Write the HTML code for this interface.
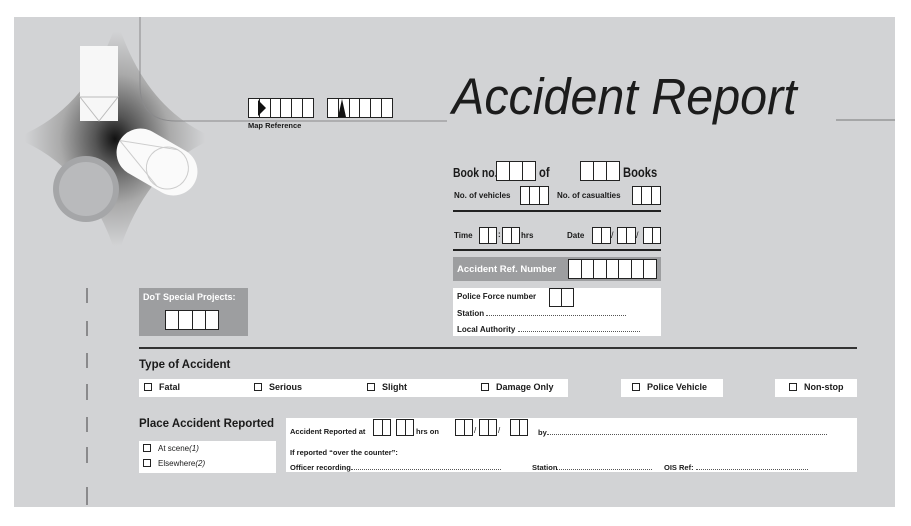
<!DOCTYPE html>
<html><head><meta charset="utf-8"><style>
*{margin:0;padding:0;box-sizing:border-box}
body{width:911px;height:526px;background:#fff;position:relative;overflow:hidden;font-family:"Liberation Sans",sans-serif;color:#1a1a1a}
.a{position:absolute;white-space:nowrap}
.b{font-weight:bold}
.cells{position:absolute;display:flex;border:1.5px solid #222;background:#fff}
.cells span{flex:1;border-left:1.5px solid #222}
.cells span:first-child{border-left:none}
.w{position:absolute;background:#fff}
.cb{display:inline-block;width:8px;height:8px;border:1.3px solid #222;margin-right:7px;vertical-align:-1px}
.dots{border-bottom:1px dotted #555;display:inline-block;height:8px}
.sx{transform:scaleX(0.8);transform-origin:left center}
</style></head><body>
<svg class="a" style="left:0;top:0" width="911" height="526">
<defs>
<radialGradient id="g" cx="0.5" cy="0.5" r="0.5">
<stop offset="0" stop-color="#111"/><stop offset="0.2" stop-color="#555"/><stop offset="0.55" stop-color="#aaa"/><stop offset="0.9" stop-color="#d2d3d5"/></radialGradient>
</defs>
<rect x="14" y="17" width="881" height="490" fill="#d2d3d5"/>
<path d="M117,20 Q145,110 215,138 Q145,166 117,258 Q89,166 15,138 Q89,110 117,20 Z" fill="url(#g)"/>
<path d="M140,17 V85 Q140,121 176,121 H447" fill="none" stroke="#8a8a8c" stroke-width="1"/>
<line x1="836" y1="120" x2="895" y2="120" stroke="#8a8a8c" stroke-width="1.2"/>
<rect x="80" y="46" width="38" height="75" fill="#f7f7f7"/>
<path d="M80,97 H118 L99,121 Z" fill="none" stroke="#bbb" stroke-width="1"/>
<g transform="translate(157,162) rotate(30)">
<rect x="-43" y="-24" width="86" height="48" rx="24" fill="#fafafa"/>
<circle cx="12" cy="0" r="21" fill="none" stroke="#ccc"/>
<path d="M-43,0 L12,-21 M-43,0 L12,21" stroke="#ccc" fill="none"/>
</g>
<circle cx="86" cy="189" r="33" fill="#a5a6a8"/>
<circle cx="86" cy="189" r="27" fill="#b9babc"/>
<line x1="87" y1="288" x2="87" y2="303" stroke="#8a8a8c" stroke-width="2"/>
<line x1="87" y1="321" x2="87" y2="336" stroke="#8a8a8c" stroke-width="2"/>
<line x1="87" y1="353" x2="87" y2="368" stroke="#8a8a8c" stroke-width="2"/>
<line x1="87" y1="384" x2="87" y2="400" stroke="#8a8a8c" stroke-width="2"/>
<line x1="87" y1="417" x2="87" y2="432" stroke="#8a8a8c" stroke-width="2"/>
<line x1="87" y1="447" x2="87" y2="463" stroke="#8a8a8c" stroke-width="2"/>
<line x1="87" y1="487" x2="87" y2="505" stroke="#8a8a8c" stroke-width="2"/>
<line x1="453" y1="211" x2="661" y2="211" stroke="#222" stroke-width="2"/>
<line x1="453" y1="250" x2="661" y2="250" stroke="#222" stroke-width="2"/>
<line x1="139" y1="348" x2="857" y2="348" stroke="#333" stroke-width="2"/>
</svg>

<div class="cells" style="left:248px;top:98px;width:66px;height:20px"><span></span><span></span><span></span><span></span><span></span><span></span></div>
<svg class="a" style="left:258px;top:100px" width="10" height="16"><polygon points="0,0 8,8 0,16" fill="#111"/></svg>
<div class="cells" style="left:327px;top:98px;width:66px;height:20px"><span></span><span></span><span></span><span></span><span></span><span></span></div>
<svg class="a" style="left:338px;top:99px" width="8" height="18"><polygon points="4,0 8,18 0,18" fill="#111"/></svg>
<div class="a b" style="left:248px;top:121px;font-size:7.5px">Map Reference</div>

<div class="a" style="left:452px;top:67px;font-size:51px;font-style:italic;color:#1c1c1c;transform:scaleX(0.95);transform-origin:left top">Accident Report</div>

<div class="a b sx" style="left:453px;top:165px;font-size:13px">Book no.</div>
<div class="cells" style="left:496px;top:161px;width:40px;height:20px"><span></span><span></span><span></span></div>
<div class="a b sx" style="left:539px;top:164px;font-size:14px">of</div>
<div class="cells" style="left:580px;top:161px;width:40px;height:20px"><span></span><span></span><span></span></div>
<div class="a b sx" style="left:623px;top:164px;font-size:14px">Books</div>
<div class="a b" style="left:454px;top:191px;font-size:8px">No. of vehicles</div>
<div class="cells" style="left:520px;top:186px;width:29px;height:19px"><span></span><span></span><span></span></div>
<div class="a b" style="left:557px;top:191px;font-size:8px">No. of casualties</div>
<div class="cells" style="left:632px;top:186px;width:29px;height:19px"><span></span><span></span><span></span></div>

<div class="a b" style="left:454px;top:231px;font-size:8px">Time</div>
<div class="cells" style="left:479px;top:227px;width:18px;height:17px"><span></span><span></span></div>
<div class="a b" style="left:498px;top:230px;font-size:8px">:</div>
<div class="cells" style="left:502px;top:227px;width:18px;height:17px"><span></span><span></span></div>
<div class="a b" style="left:521px;top:231px;font-size:8px">hrs</div>
<div class="a b" style="left:567px;top:231px;font-size:8px">Date</div>
<div class="cells" style="left:592px;top:227px;width:19px;height:17px"><span></span><span></span></div>
<div class="a" style="left:611px;top:230px;font-size:9px">/</div>
<div class="cells" style="left:617px;top:227px;width:19px;height:17px"><span></span><span></span></div>
<div class="a" style="left:636px;top:230px;font-size:9px">/</div>
<div class="cells" style="left:643px;top:227px;width:18px;height:17px"><span></span><span></span></div>

<div class="w" style="left:453px;top:257px;width:208px;height:24px;background:#9d9ea0"></div>
<div class="a b" style="left:457px;top:264px;font-size:9.5px;color:#fff">Accident Ref. Number</div>
<div class="cells" style="left:568px;top:259px;width:89px;height:20px"><span></span><span></span><span></span><span></span><span></span><span></span><span></span></div>

<div class="w" style="left:453px;top:288px;width:208px;height:48px"></div>
<div class="a b" style="left:457px;top:292px;font-size:8px">Police Force number</div>
<div class="cells" style="left:549px;top:288px;width:25px;height:19px"><span></span><span></span></div>
<div class="a b" style="left:457px;top:308px;font-size:8px">Station <span class="dots" style="width:140px"></span></div>
<div class="a b" style="left:457px;top:324px;font-size:8px">Local Authority <span class="dots" style="width:122px"></span></div>

<div class="w" style="left:139px;top:288px;width:109px;height:48px;background:#9d9ea0"></div>
<div class="a b" style="left:143px;top:292px;font-size:9px;color:#fff">DoT Special Projects:</div>
<div class="cells" style="left:165px;top:310px;width:54px;height:20px"><span></span><span></span><span></span><span></span></div>

<div class="a b" style="left:139px;top:359px;font-size:11.5px">Type of Accident</div>
<div class="w" style="left:139px;top:379px;width:429px;height:18px"></div>
<div class="a b" style="left:144px;top:382px;font-size:9px"><span class="cb"></span>Fatal</div>
<div class="a b" style="left:254px;top:382px;font-size:9px"><span class="cb"></span>Serious</div>
<div class="a b" style="left:367px;top:382px;font-size:9px"><span class="cb"></span>Slight</div>
<div class="a b" style="left:481px;top:382px;font-size:9px"><span class="cb"></span>Damage Only</div>
<div class="w" style="left:621px;top:379px;width:102px;height:18px"></div>
<div class="a b" style="left:632px;top:382px;font-size:9px"><span class="cb"></span>Police Vehicle</div>
<div class="w" style="left:775px;top:379px;width:82px;height:18px"></div>
<div class="a b" style="left:789px;top:382px;font-size:9px"><span class="cb"></span>Non-stop</div>

<div class="a b" style="left:139px;top:418px;font-size:11.5px">Place Accident Reported</div>
<div class="w" style="left:139px;top:441px;width:137px;height:32px"></div>
<div class="a" style="left:143px;top:444px;font-size:8px"><span class="cb"></span>At scene<i>(1)</i></div>
<div class="a" style="left:143px;top:459px;font-size:8px"><span class="cb"></span>Elsewhere<i>(2)</i></div>
<div class="w" style="left:286px;top:418px;width:571px;height:54px"></div>
<div class="a b" style="left:290px;top:427px;font-size:7.5px">Accident Reported at</div>
<div class="cells" style="left:373px;top:419px;width:18px;height:17px"><span></span><span></span></div>
<div class="cells" style="left:396px;top:419px;width:18px;height:17px"><span></span><span></span></div>
<div class="a b" style="left:416px;top:427px;font-size:7.5px">hrs on</div>
<div class="cells" style="left:455px;top:419px;width:18px;height:17px"><span></span><span></span></div>
<div class="a" style="left:474px;top:426px;font-size:8px">/</div>
<div class="cells" style="left:479px;top:419px;width:18px;height:17px"><span></span><span></span></div>
<div class="a" style="left:498px;top:426px;font-size:8px">/</div>
<div class="cells" style="left:510px;top:419px;width:18px;height:17px"><span></span><span></span></div>
<div class="a b" style="left:538px;top:427px;font-size:7.5px">by<span class="dots" style="width:280px"></span></div>
<div class="a b" style="left:290px;top:448px;font-size:7.5px">If reported “over the counter”:</div>
<div class="a b" style="left:290px;top:462px;font-size:7.5px">Officer recording<span class="dots" style="width:150px"></span></div>
<div class="a b" style="left:532px;top:462px;font-size:7.5px">Station<span class="dots" style="width:95px"></span></div>
<div class="a b" style="left:664px;top:462px;font-size:7.5px">OIS Ref: <span class="dots" style="width:112px"></span></div>
</body></html>
